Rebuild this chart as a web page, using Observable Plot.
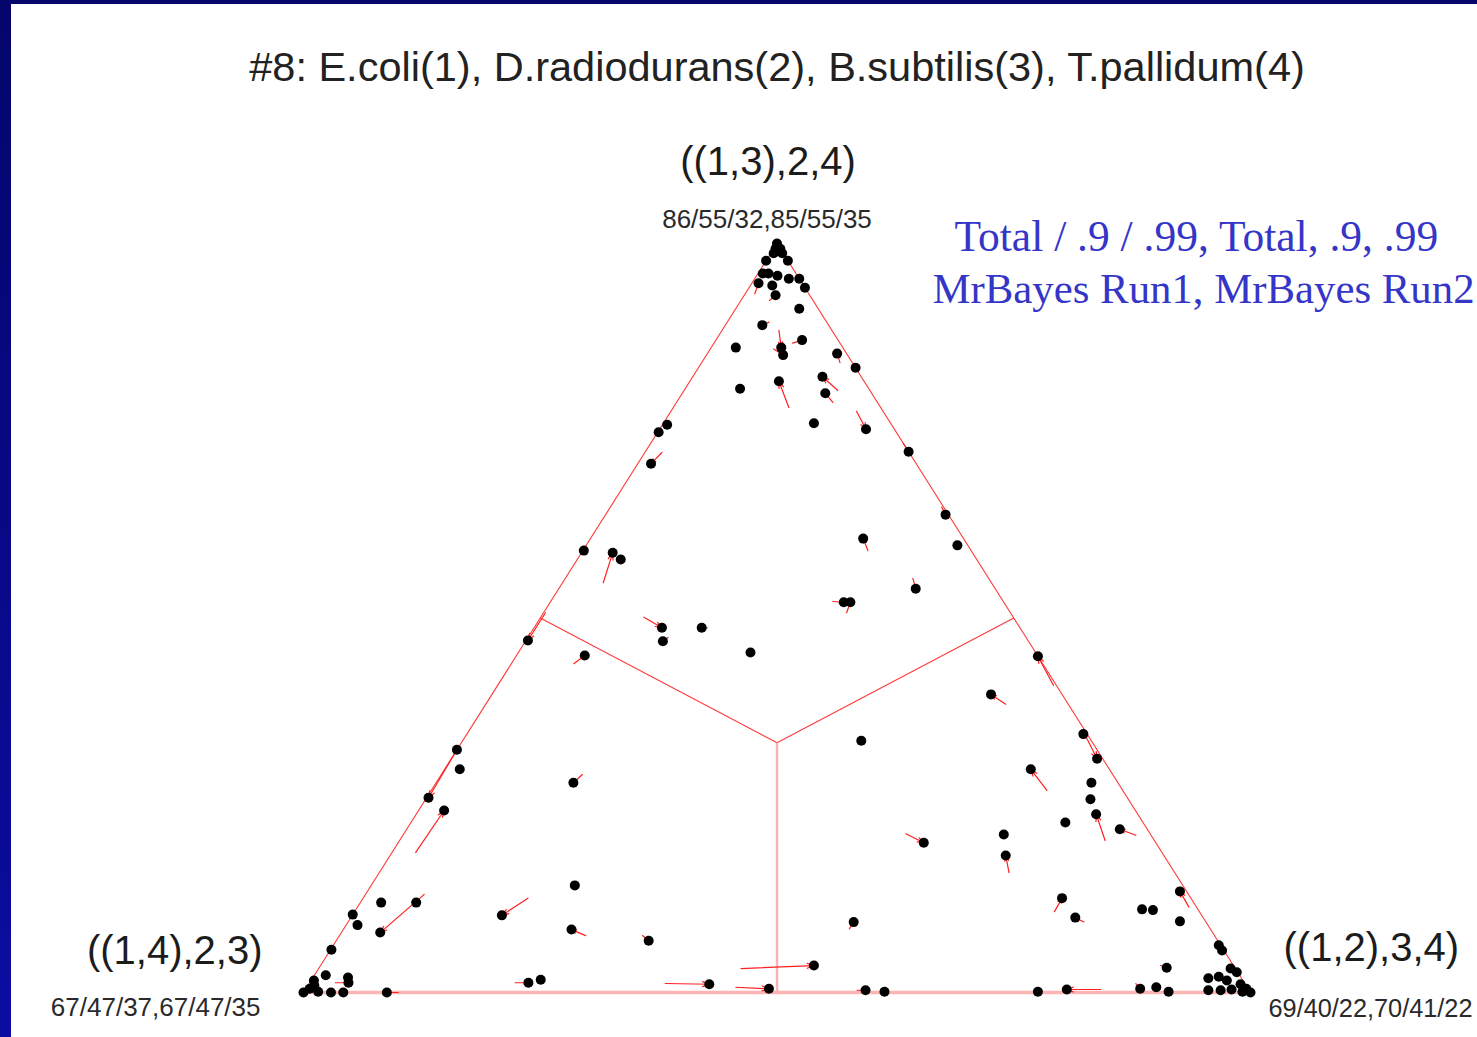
<!DOCTYPE html>
<html>
<head>
<meta charset="utf-8">
<script src="https://cdn.jsdelivr.net/npm/d3@7"></script>
<script src="https://cdn.jsdelivr.net/npm/@observablehq/plot@0.6"></script>
<style>
  html, body { margin: 0; padding: 0; }
  body {
    width: 1477px; height: 1037px; overflow: hidden;
    background: linear-gradient(#05056c, #0c0ca2);
    position: relative;
  }
  #panel {
    position: absolute; left: 11px; top: 4px;
    width: 1466px; height: 1033px; background: #fff;
  }
  #panel svg { display: block; }
</style>
</head>
<body>
<div id="panel"></div>
<script>
// Split-support posterior probabilities for quartet #8, one point per split.
// topRun2 = P(((1,3),2,4)), rightRun2 = P(((1,2),3,4)); the remainder is P(((1,4),2,3)).
const topRun2 = [1.000,0.993,0.993,0.987,0.987,0.977,0.977,0.960,0.960,0.957,
  0.953,0.953,0.947,0.944,0.941,0.931,0.913,0.891,0.861,0.851,
  0.871,0.861,0.853,0.834,0.806,0.816,0.822,0.800,0.760,0.752,
  0.722,0.758,0.748,0.706,0.590,0.587,0.578,0.606,0.638,0.597,
  0.539,0.521,0.521,0.470,0.487,0.469,0.487,0.454,0.450,0.449,
  0.398,0.336,0.345,0.312,0.298,0.280,0.258,0.238,0.227,0.218,
  0.211,0.183,0.200,0.094,0.126,0.100,0.111,0.110,0.135,0.095,
  0.033,0.005,0.007,0.001,0.004,0.001,0.063,0.056,0.032,0.027,
  0.019,0.021,0.016,0.011,0.005,0.000,0.003,0.003,0.004,0.001,
  0.003,0.001,0.036,0.005,0.011,0.069,0.084,0.143,0.280,0.103,
  0.013,0.017,0.000,0.324,0.298,0.260,0.243,0.120,0.120,0.080,
  0.104,0.090,0.057,0.023,0.020,0.013,0.000,0.005,0.009,0.001,
  0.000,0.000,0.016];
const rightRun2 = [0.000,0.002,0.007,0.003,0.012,0.000,0.023,0.005,0.011,0.022,
  0.036,0.047,0.007,0.023,0.059,0.033,0.067,0.039,0.074,0.081,
  0.091,0.026,0.137,0.166,0.058,0.094,0.137,0.151,0.159,0.218,
  0.278,0.005,0.001,0.014,0.001,0.033,0.046,0.288,0.359,0.392,
  0.377,0.310,0.317,0.002,0.135,0.145,0.177,0.245,0.072,0.551,
  0.527,0.421,0.651,0.682,0.619,0.692,0.702,0.718,0.691,0.753,
  0.634,0.650,0.555,0.534,0.738,0.765,0.830,0.842,0.858,0.878,
  0.895,0.881,0.897,0.913,0.804,0.775,0.935,0.942,0.963,0.972,
  0.946,0.956,0.967,0.984,0.993,1.000,0.954,0.967,0.978,0.991,
  0.592,0.613,0.521,0.489,0.423,0.330,0.241,0.215,0.145,0.158,
  0.231,0.242,0.088,0.000,0.016,0.002,0.027,0.059,0.022,0.041,
  0.000,0.012,0.001,0.012,0.037,0.041,0.000,0.004,0.007,0.015,
  0.029,0.042,0.003];

// Splits whose Run1 estimate differs visibly: index into the arrays above,
// and the Run1 probabilities the arrow starts from.
const shiftIndex = [12,15,17,18,19,20,22,25,26,27,29,30,33,35,37,38,40,41,42,43,
  44,45,46,48,49,50,53,54,57,59,61,62,63,64,65,68,70,71,74,90,
  92,93,94,95,96,98,99,100,102,105,106,109,115];
const shiftTop = [0.933,0.924,0.895,0.884,0.859,0.867,0.841,0.781,0.804,0.788,
  0.776,0.733,0.721,0.547,0.590,0.648,0.553,0.522,0.507,0.507,
  0.501,0.474,0.487,0.439,0.410,0.385,0.342,0.270,0.203,0.210,
  0.160,0.212,0.085,0.108,0.094,0.114,0.036,0.012,0.004,0.003,
  0.032,0.007,0.012,0.076,0.076,0.291,0.126,0.013,0.000,0.324,
  0.187,0.131,0.013];
const shiftRight = [0.010,0.030,0.044,0.060,0.067,0.083,0.146,0.122,0.162,0.165,
  0.196,0.267,0.018,0.043,0.301,0.350,0.367,0.298,0.320,0.002,
  0.109,0.148,0.183,0.066,0.587,0.549,0.655,0.650,0.745,0.774,
  0.665,0.530,0.534,0.739,0.777,0.878,0.887,0.873,0.840,0.583,
  0.446,0.453,0.376,0.320,0.260,0.149,0.174,0.217,0.100,0.000,
  0.025,0.062,0.027];

// Vertex labels: topology and support summary (Total/.9/.99 for each run)
const topologies = ["((1,4),2,3)", "((1,3),2,4)", "((1,2),3,4)"];
const supportText = ["67/47/37,67/47/35", "86/55/32,85/55/35", "69/40/22,70/41/22"];
const legendLines = ["Total / .9 / .99, Total, .9, .99", "MrBayes Run1, MrBayes Run2"];
const titleText = "#8: E.coli(1), D.radiodurans(2), B.subtilis(3), T.pallidum(4)";

// Barycentric -> planar (equilateral layout, y = top probability)
const tx = (top, right) => right + top / 2;

const points = topRun2.map((t, i) => ({top: t, right: rightRun2[i]}));
const shifts = shiftIndex.map((k, i) => ({
  x1: tx(shiftTop[i], shiftRight[i]), y1: shiftTop[i],
  x2: tx(topRun2[k], rightRun2[k]), y2: topRun2[k]
}));

const vLeft = {top: 0, right: 0}, vTop = {top: 1, right: 0}, vRight = {top: 0, right: 1};
const centre = {top: 1/3, right: 1/3};
const vertices = [vLeft, vTop, vRight].map((v, i) => ({...v, name: topologies[i], support: supportText[i]}));

const X = d => tx(d.top, d.right);
const Y = d => d.top;
const sans = "Liberation Sans, Arial, Helvetica, sans-serif";
const serif = "Liberation Serif, Times New Roman, serif";

const chart = Plot.plot({
  width: 1466,
  height: 1033,
  marginLeft: 292,
  marginRight: 227,
  marginTop: 239,
  marginBottom: 45,
  x: {domain: [0, 1], axis: null},
  y: {domain: [0, 1], axis: null},
  style: {background: "#fff", overflow: "visible"},
  marks: [
    // triangle frame
    Plot.line([vLeft, vRight], {x: X, y: Y, stroke: "#ffb4b4", strokeWidth: 3.5}),
    Plot.line([vLeft, vTop, vRight], {x: X, y: Y, stroke: "#ff3a3a", strokeWidth: 1.1}),
    // regions of the three topologies
    Plot.link([{top: 0.5, right: 0}, {top: 0.5, right: 0.5}], {
      x1: X, y1: Y, x2: () => tx(centre.top, centre.right), y2: () => centre.top,
      stroke: "#ff3a3a", strokeWidth: 1.1
    }),
    Plot.link([{top: 0, right: 0.5}], {
      x1: X, y1: Y, x2: () => tx(centre.top, centre.right), y2: () => centre.top,
      stroke: "#ffb0b0", strokeWidth: 2.5
    }),
    // Run1 -> Run2 shifts
    Plot.arrow(shifts, {
      x1: "x1", y1: "y1", x2: "x2", y2: "y2",
      stroke: "#ff2020", strokeWidth: 1.2, headLength: 9, headAngle: 40
    }),
    // split estimates
    Plot.dot(points, {x: X, y: Y, r: 5, fill: "#000", stroke: "none"}),
    // vertex labels
    Plot.text([vertices[1]], {x: X, y: Y, text: "name", dx: -9, dy: -69, lineAnchor: "bottom",
      fontSize: 40, fontFamily: sans, fill: "#1c1c1c"}),
    Plot.text([vertices[1]], {x: X, y: Y, text: "support", dx: -10, dy: -16, lineAnchor: "bottom",
      fontSize: 26, fontFamily: sans, fill: "#2a2a2a"}),
    Plot.text([vertices[0]], {x: X, y: Y, text: "name", dx: -41, dy: -29, lineAnchor: "bottom",
      textAnchor: "end", fontSize: 40, fontFamily: sans, fill: "#1c1c1c"}),
    Plot.text([vertices[0]], {x: X, y: Y, text: "support", dx: -43, dy: 23, lineAnchor: "bottom",
      textAnchor: "end", fontSize: 26, fontFamily: sans, fill: "#2a2a2a"}),
    Plot.text([vertices[2]], {x: X, y: Y, text: "name", dx: 33, dy: -32, lineAnchor: "bottom",
      textAnchor: "start", fontSize: 40, fontFamily: sans, fill: "#1c1c1c"}),
    Plot.text([vertices[2]], {x: X, y: Y, text: "support", dx: 18, dy: 24, lineAnchor: "bottom",
      textAnchor: "start", fontSize: 25.3, fontFamily: sans, fill: "#2a2a2a"}),
    // title
    Plot.text([titleText], {frameAnchor: "top", dy: -163, lineAnchor: "bottom",
      fontSize: 41.5, fontFamily: sans, fill: "#222"}),
    // legend
    Plot.text([legendLines[0]], {frameAnchor: "top-left", dx: 651, dy: 7, lineAnchor: "bottom",
      textAnchor: "start", fontSize: 43.5, fontFamily: serif, fill: "#3535c8"}),
    Plot.text([legendLines[1]], {frameAnchor: "top-left", dx: 629, dy: 59, lineAnchor: "bottom",
      textAnchor: "start", fontSize: 42.8, fontFamily: serif, fill: "#3535c8"})
  ]
});
document.getElementById("panel").appendChild(chart);
</script>
</body>
</html>
